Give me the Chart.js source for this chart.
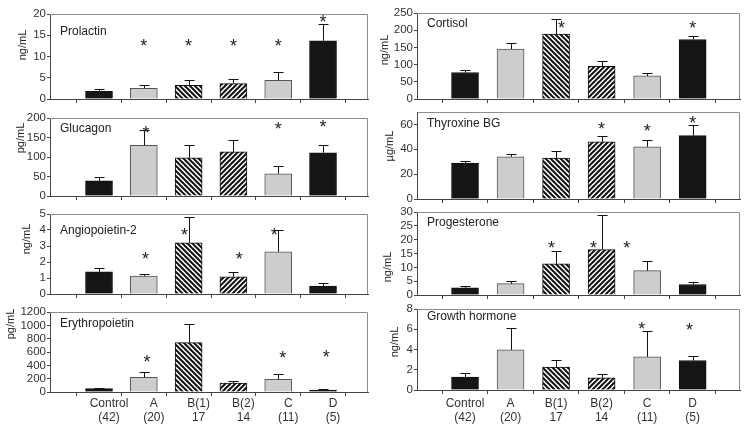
<!DOCTYPE html>
<html>
<head>
<meta charset="utf-8">
<script src="https://cdn.jsdelivr.net/npm/chart.js@4/dist/chart.umd.min.js"></script>
<style>
  body { margin: 0; background: #fff; width: 750px; height: 428px; position: relative; overflow: hidden; }
  canvas { position: absolute; }
</style>
</head>
<body>
<script>
// groups along x, shared by all 8 panels
const groups = ["Control", "A", "B(1)", "B(2)", "C", "D"];
const groupSizes = ["(42)", "(20)", "17", "14", "(11)", "(5)"];

// mean (bar height), mean + error (whisker top), asterisks (x = group index, y = value)
const prolactinMean = [1.8, 2.5, 3.2, 3.6, 4.4, 13.7];
const prolactinUpper = [2.3, 3.3, 4.5, 4.7, 6.3, 17.6];
const prolactinStarX = [1, 2, 3, 4, 5];
const prolactinStarY = [13.5, 13.5, 13.5, 13.5, 19.0];
const prolactinTicks = [0, 5, 10, 15, 20];

const glucagonMean = [39, 130, 98, 113, 57, 111];
const glucagonUpper = [50, 170, 132, 144, 76, 130];
const glucagonStarX = [1.05, 4, 5];
const glucagonStarY = [172, 181, 187];
const glucagonTicks = [0, 50, 100, 150, 200];

const angioMean = [1.39, 1.12, 3.2, 1.08, 2.64, 0.5];
const angioUpper = [1.62, 1.27, 4.79, 1.39, 4.0, 0.69];
const angioStarX = [1.04, 1.91, 3.13, 3.91];
const angioStarY = [2.41, 3.96, 2.41, 3.96];
const angioTicks = [0, 1, 2, 3, 4, 5];

const epoMean = [50, 220, 740, 135, 190, 30];
const epoUpper = [60, 300, 1020, 165, 275, 40];
const epoStarX = [1.07, 4.1, 5.07];
const epoStarY = [510, 575, 585];
const epoTicks = [0, 200, 400, 600, 800, 1000, 1200];

const cortisolMean = [77, 145, 189, 95, 67, 173];
const cortisolUpper = [83, 164, 234, 110, 75, 184];
const cortisolStarX = [2.12, 5];
const cortisolStarY = [219, 217];
const cortisolTicks = [0, 50, 100, 150, 200, 250];

const thyroxineMean = [29, 34, 33, 46, 42, 51];
const thyroxineUpper = [30.5, 36.5, 38.5, 50.5, 47.5, 59.5];
const thyroxineStarX = [3, 4, 5];
const thyroxineStarY = [59.8, 57.6, 64.3];
const thyroxineTicks = [0, 20, 40, 60];

const progMean = [2.6, 4.1, 11.3, 16.4, 8.8, 3.8];
const progUpper = [3.1, 5.0, 16.0, 29.0, 12.4, 4.7];
const progStarX = [1.9, 2.82, 3.55];
const progStarY = [18.4, 18.4, 18.4];
const progTicks = [0, 5, 10, 15, 20, 25, 30];

const ghMean = [1.28, 3.96, 2.26, 1.21, 3.27, 2.91];
const ghUpper = [1.67, 6.1, 2.98, 1.57, 5.8, 3.34];
const ghStarX = [3.88, 4.93];
const ghStarY = [6.42, 6.32];
const ghTicks = [0, 2, 4, 6, 8];

const FONT = '"Liberation Sans", Arial, sans-serif';
Chart.defaults.font.family = FONT;

function hatch(forward) {
  const s = 5;
  const c = document.createElement("canvas");
  c.width = s; c.height = s;
  const g = c.getContext("2d");
  g.fillStyle = "#fff";
  g.fillRect(0, 0, s, s);
  g.strokeStyle = "#111";
  g.lineWidth = 2;
  g.beginPath();
  if (forward) {          // "////"
    g.moveTo(-1, s + 1); g.lineTo(s + 1, -1);
    g.moveTo(-1, 1); g.lineTo(1, -1);
    g.moveTo(s - 1, s + 1); g.lineTo(s + 1, s - 1);
  } else {                // "\\\\"
    g.moveTo(-1, -1); g.lineTo(s + 1, s + 1);
    g.moveTo(-1, s - 1); g.lineTo(1, s + 1);
    g.moveTo(s - 1, -1); g.lineTo(s + 1, 1);
  }
  g.stroke();
  return g.createPattern(c, "repeat");
}

const BLACK = "#151515", GRAY = "#cdcdcd";
const barFill = [BLACK, GRAY, hatch(false), hatch(true), GRAY, BLACK];
const barEdge = ["#111", "#555", "#111", "#111", "#555", "#111"];

const columns = [
  { left: 0, width: 372, areaLeft: 50, areaRight: 368, xMin: -1.094, xMax: 6.004, labelOffset: 10, labelPad: 0 },
  { left: 376, width: 372, areaLeft: 417, areaRight: 740, xMin: -1.055, xMax: 6.04, labelOffset: 0, labelPad: 2 }
];

const panels = [
  { name: "Prolactin", unit: "ng/mL", mean: prolactinMean, upper: prolactinUpper, starX: prolactinStarX, starY: prolactinStarY, ticks: prolactinTicks, max: 20,
    col: 0, top: 14, bottom: 99, nameDy: 18, unitAt: [23, 45] },
  { name: "Glucagon", unit: "pg/mL", mean: glucagonMean, upper: glucagonUpper, starX: glucagonStarX, starY: glucagonStarY, ticks: glucagonTicks, max: 200,
    col: 0, top: 118, bottom: 196, nameDy: 11, unitAt: [21, 138] },
  { name: "Angiopoietin-2", unit: "ng/mL", mean: angioMean, upper: angioUpper, starX: angioStarX, starY: angioStarY, ticks: angioTicks, max: 5,
    col: 0, top: 214, bottom: 294, nameDy: 17, unitAt: [27, 239] },
  { name: "Erythropoietin", unit: "pg/mL", mean: epoMean, upper: epoUpper, starX: epoStarX, starY: epoStarY, ticks: epoTicks, max: 1200,
    col: 0, top: 312, bottom: 392, nameDy: 12, unitAt: [11, 324], labels: true },
  { name: "Cortisol", unit: "ng/mL", mean: cortisolMean, upper: cortisolUpper, starX: cortisolStarX, starY: cortisolStarY, ticks: cortisolTicks, max: 250,
    col: 1, top: 13, bottom: 99, nameDy: 11, unitAt: [385, 50] },
  { name: "Thyroxine BG", unit: "µg/mL", mean: thyroxineMean, upper: thyroxineUpper, starX: thyroxineStarX, starY: thyroxineStarY, ticks: thyroxineTicks, max: 70,
    col: 1, top: 112, bottom: 199, nameDy: 12, unitAt: [390, 146] },
  { name: "Progesterone", unit: "ng/mL", mean: progMean, upper: progUpper, starX: progStarX, starY: progStarY, ticks: progTicks, max: 30,
    col: 1, top: 212, bottom: 295, nameDy: 11, unitAt: [388, 267] },
  { name: "Growth hormone", unit: "ng/mL", mean: ghMean, upper: ghUpper, starX: ghStarX, starY: ghStarY, ticks: ghTicks, max: 8,
    col: 1, top: 309, bottom: 390, nameDy: 8, unitAt: [395, 342], labels: true }
];

// box edges, error whiskers, asterisks, panel name and unit
const decor = {
  id: "decor",
  afterDatasetsDraw(chart, args, o) {
    const { ctx, chartArea: a, scales: { x, y } } = chart;
    ctx.save();
    ctx.lineWidth = 1;
    ctx.strokeStyle = "#8c8c8c";
    ctx.beginPath();
    ctx.moveTo(a.left, a.top + 0.5);
    ctx.lineTo(a.right - 0.5, a.top + 0.5);
    ctx.lineTo(a.right - 0.5, a.bottom);
    ctx.stroke();

    ctx.strokeStyle = "#111";
    chart.getDatasetMeta(0).data.forEach((bar, i) => {
      const px = Math.round(bar.x) + 0.5;
      const hi = Math.round(y.getPixelForValue(o.upper[i])) + 0.5;
      ctx.beginPath();
      ctx.moveTo(px, bar.y);
      ctx.lineTo(px, hi);
      ctx.moveTo(px - 5, hi);
      ctx.lineTo(px + 5, hi);
      ctx.stroke();
    });

    ctx.fillStyle = "#222";
    ctx.textAlign = "center";
    ctx.textBaseline = "alphabetic";
    ctx.font = "18px " + FONT;
    o.starX.forEach((sx, i) => {
      ctx.fillText("*", x.getPixelForValue(sx), y.getPixelForValue(o.starY[i]) + 10);
    });

    ctx.font = "12px " + FONT;
    ctx.textAlign = "left";
    ctx.textBaseline = "middle";
    ctx.fillText(o.name, a.left + 10, a.top + o.nameDy);

    ctx.font = "11px " + FONT;
    ctx.textAlign = "center";
    ctx.translate(o.unitAt[0] - o.offset[0], o.unitAt[1] - o.offset[1]);
    ctx.rotate(-Math.PI / 2);
    ctx.fillText(o.unit, 0, 0);
    ctx.restore();
  }
};

panels.forEach(p => {
  const col = columns[p.col];
  const below = p.labels ? 36 : 8;
  const canvas = document.createElement("canvas");
  const top = p.top - 8;
  canvas.width = col.width;
  canvas.height = p.bottom - p.top + 8 + below;
  canvas.style.left = col.left + "px";
  canvas.style.top = top + "px";
  document.body.appendChild(canvas);

  new Chart(canvas, {
    type: "bar",
    data: {
      datasets: [{
        data: p.mean.map((v, i) => ({ x: i, y: v })),
        backgroundColor: barFill,
        borderColor: barEdge,
        borderWidth: 1,
        barThickness: 27
      }]
    },
    plugins: [decor],
    options: {
      responsive: false,
      animation: false,
      events: [],
      layout: { padding: { top: 8, left: 0, bottom: 0, right: col.left + col.width - col.areaRight } },
      plugins: {
        legend: { display: false },
        tooltip: { enabled: false },
        decor: {
          upper: p.upper, starX: p.starX, starY: p.starY, name: p.name, nameDy: p.nameDy,
          unit: p.unit, unitAt: p.unitAt, offset: [col.left, top]
        }
      },
      scales: {
        x: {
          type: "linear",
          offset: false,
          min: col.xMin,
          max: col.xMax,
          afterBuildTicks: s => { s.ticks = groups.map((g, i) => ({ value: i })); },
          afterFit: s => { s.height = below; },
          grid: { drawOnChartArea: false, drawTicks: true, tickLength: 4, color: "#444" },
          border: { color: "#444" },
          ticks: {
            display: !!p.labels,
            autoSkip: false,
            maxRotation: 0,
            padding: col.labelPad,
            labelOffset: col.labelOffset,
            color: "#333",
            font: { size: 12, lineHeight: 1.2 },
            callback: (v, i) => [groups[i], groupSizes[i]]
          }
        },
        y: {
          min: 0,
          max: p.max,
          afterBuildTicks: s => { s.ticks = p.ticks.map(v => ({ value: v })); },
          afterFit: s => { s.width = col.areaLeft - col.left; },
          grid: { drawOnChartArea: false, drawTicks: true, tickLength: 3, color: "#444" },
          border: { color: "#444" },
          ticks: { autoSkip: false, padding: 1, color: "#333", font: { size: 11.5 }, callback: v => String(v) }
        }
      }
    }
  });
});
</script>
</body>
</html>
